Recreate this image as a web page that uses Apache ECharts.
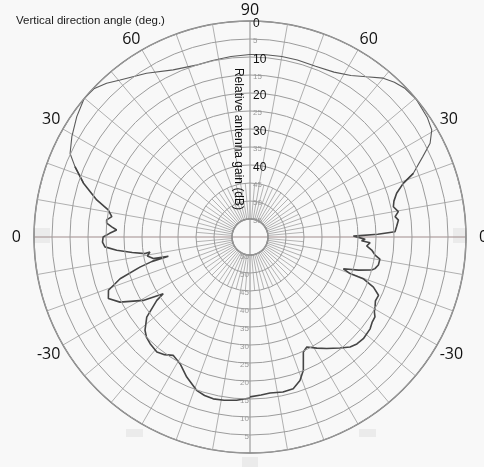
<!DOCTYPE html>
<html>
<head>
<meta charset="utf-8">
<script src="https://cdn.jsdelivr.net/npm/echarts@6/dist/echarts.min.js"></script>
<style>
  html, body { margin: 0; padding: 0; background: #f8f8f8; }
  #chart { width: 484px; height: 467px; }
</style>
</head>
<body>
<div id="chart"></div>
<script>
// Measured vertical pattern: elevation angle (deg) and relative gain (dB, 0 = peak)
const rightElevation = [90, 85, 80, 75, 69, 63, 58, 54, 50, 47, 44, 39.5, 34, 30.5, 27.5, 25, 21.3, 19.3, 16.6, 14, 11.9, 9.7, 8, 6.5, 4, 2.1, 1.2, 0.5, -0.2, -1.1, -1.9, -2.7, -4.4, -6.1, -8.2, -9.7, -12.3, -14.2, -15.2, -17, -18.8, -20.1, -20.2, -22.1, -24.4, -27, -29.2, -31, -32.6, -35, -37.4, -41.9, -45, -47.7, -51, -55.5, -59, -62.7, -65.1, -68.2, -70.8, -74.1, -78, -82.7, -86, -90];
const rightGain = [9.3, 9.2, 9.1, 9.1, 9.2, 8.6, 7.1, 5.0, 2.4, 1.2, 0.4, 0.05, 0.6, 1.4, 3.6, 7.0, 11.3, 14.9, 17.5, 18.8, 19.3, 18.2, 19.3, 18.5, 19.2, 19.7, 24.5, 31.3, 29.9, 28.0, 29.0, 26.6, 27.5, 26.0, 24.9, 23.4, 23.5, 24.2, 25.0, 28.5, 32.6, 30.4, 26.5, 23.0, 20.8, 20.9, 20.2, 19.7, 18.8, 18.6, 18.0, 17.7, 18.0, 18.7, 20.3, 22.4, 24.0, 25.6, 24.8, 20.1, 17.8, 16.2, 16.0, 16.3, 16.0, 15.6];

const leftElevation = [90, 84, 78, 73, 65.3, 57.7, 50.4, 47, 43.5, 39.8, 34.8, 29.4, 24.9, 21.9, 17.9, 13.6, 10.8, 8.4, 6.8, 5.5, 4.2, 3, 1.5, 0, -2, -3.9, -5.7, -7.5, -9, -8.5, -10.5, -12.6, -13.3, -14, -15.3, -17.8, -20.6, -23.5, -26.6, -30.7, -33.2, -34.2, -37.8, -41.6, -44, -46.9, -51, -54, -57, -61.1, -65.7, -70.8, -74, -77.2, -81, -85.3, -90];
const leftGain = [9.3, 9.6, 9.9, 10.0, 8.9, 6.2, 3.4, 1.6, 0.2, 0.0, 1.4, 3.2, 4.9, 7.6, 11.4, 16.2, 19.9, 21.2, 19.9, 20.0, 21.5, 22.9, 21.0, 19.2, 19.0, 19.6, 22.8, 27.0, 30.5, 31.9, 31.0, 32.5, 36.7, 32.0, 28.3, 22.1, 18.0, 17.1, 19.6, 25.5, 31.2, 28.7, 23.7, 21.0, 20.0, 19.4, 18.9, 19.6, 20.8, 19.8, 17.3, 14.9, 14.2, 13.9, 14.1, 14.5, 15.3];

// Below this elevation the trace gets the heavier (noisier) stroke
const heavyBelow = 20;

// Gain rings (dB) and which of them get the large labels
const gainMin = 0;
const gainMax = 55;
const gainStep = 5;
const majorGainLabels = [0, 10, 20, 30, 40];

// Elevation labels around the rim, keyed by polar angle (clockwise from the top)
const rimLabels = { 0: '90', 30: '60', 60: '30', 90: '0', 120: '-30', 240: '-30', 270: '0', 300: '30', 330: '60' };

const CX = 250, CY = 237, R_IN = 18, R_OUT = 216;

// Right half runs clockwise from the zenith, left half counter-clockwise
function sidePoints(elev, gain, toAngle, keep) {
  const out = [];
  elev.forEach((e, i) => {
    const prevIn = i > 0 && keep(elev[i - 1]);
    const nextIn = i < elev.length - 1 && keep(elev[i + 1]);
    if (keep(e) || prevIn || nextIn) out.push([gain[i], toAngle(e)]);
    else out.push('-');
  });
  return out;
}
const rightAngle = e => 90 - e;
const leftAngle = e => 270 + e;
const isUpper = e => e >= heavyBelow;
const isLower = e => e < heavyBelow;

// 10-degree spokes, leaving out the two diameters (drawn separately, darker)
const spokeColors = [];
for (let i = 0; i < 36; i++) spokeColors.push(i % 9 === 0 ? 'rgba(0,0,0,0)' : '#b0b0b0');
// 5-degree spokes only between the 10-degree ones
const fineSpokeColors = ['rgba(0,0,0,0)', '#b4b4b4'];

const hidden = { axisLine: { show: false }, axisTick: { show: false }, axisLabel: { show: false }, splitLine: { show: false } };

const thinLine = { color: '#5a5a5a', width: 1.1 };
const heavyLine = { color: '#454545', width: 1.6 };

const chart = echarts.init(document.getElementById('chart'));
chart.setOption({
  backgroundColor: '#f8f8f8',
  animation: false,
  title: {
    text: 'Vertical direction angle (deg.)',
    left: 11, top: 10,
    textStyle: { fontSize: 11.5, fontWeight: 'normal', color: '#1a1a1a', fontFamily: 'Liberation Sans' }
  },
  polar: [
    { center: [CX, CY], radius: [R_IN, R_OUT] },
    { center: [CX, CY], radius: [R_IN, 54] },
    { center: [CX, CY], radius: [R_IN, R_OUT] },
    { center: [CX, CY], radius: [0, R_OUT] }
  ],
  angleAxis: [
    {
      polarIndex: 0, type: 'value', min: 0, max: 360, interval: 10, startAngle: 90, clockwise: true,
      axisLine: { lineStyle: { color: '#7a7a7a', width: 1.5 } },
      axisTick: { show: false },
      splitLine: { lineStyle: { color: spokeColors, width: 1 } },
      axisLabel: {
        margin: 3,
        color: '#111',
        fontSize: 16,
        fontFamily: 'Open Sans',
        formatter: v => {
          const t = rimLabels[v];
          if (t === undefined || v === 360) return '';
          return t === '0' ? '{z|0}' : t;
        },
        rich: { z: { fontSize: 16, fontFamily: 'Open Sans', color: '#111', padding: [0, 10, 0, 10] } }
      }
    },
    Object.assign({ polarIndex: 1, type: 'value', min: 0, max: 360, interval: 5, startAngle: 90, clockwise: true }, hidden,
      { splitLine: { show: true, lineStyle: { color: fineSpokeColors, width: 1 } } }),
    Object.assign({ polarIndex: 2, type: 'value', min: 0, max: 360, interval: 10, startAngle: 270, clockwise: true }, hidden),
    Object.assign({ polarIndex: 3, type: 'value', min: 0, max: 360, interval: 90, startAngle: 90, clockwise: true }, hidden,
      { splitLine: { show: true, lineStyle: { color: ['#8a8a8a', '#a08c8c'], width: 1 } } })
  ],
  radiusAxis: [
    {
      polarIndex: 0, type: 'value', min: gainMin, max: gainMax, interval: gainStep, inverse: true,
      axisLine: { show: false }, axisTick: { show: false },
      splitLine: { lineStyle: { color: '#9c9c9c', width: 1 } },
      axisLabel: {
        margin: -3, align: 'left', verticalAlign: 'middle',
        formatter: v => majorGainLabels.indexOf(v) >= 0 ? '{b|' + v + '}' : '{s|' + v + '}',
        rich: {
          b: { fontSize: 12, color: '#111', fontFamily: 'Liberation Sans', padding: [5, 0, 0, 0] },
          s: { fontSize: 8, color: '#9a9a9a', fontFamily: 'Liberation Sans', padding: [3, 0, 0, 0] }
        }
      },
      z: 5
    },
    Object.assign({ polarIndex: 1, type: 'value', min: gainMin, max: gainMax, inverse: true }, hidden),
    Object.assign({ polarIndex: 2, type: 'value', min: gainMin, max: gainMax, interval: gainStep, inverse: true }, hidden, {
      axisLabel: {
        show: true, margin: -1, align: 'right', verticalAlign: 'middle',
        showMaxLabel: true, showMinLabel: false,
        formatter: v => '{s|' + v + '}',
        rich: { s: { fontSize: 8, color: '#9a9a9a', fontFamily: 'Liberation Sans', padding: [3, 0, 0, 0] } }
      }
    }),
    Object.assign({ polarIndex: 3, type: 'value', min: 0, max: 1 }, hidden)
  ],
  graphic: [
    { type: 'rect', shape: { x: 33, y: 228, width: 17, height: 15 }, style: { fill: '#ebebeb' }, z: -1 },
    { type: 'rect', shape: { x: 453, y: 228, width: 14, height: 15 }, style: { fill: '#ebebeb' }, z: -1 },
    { type: 'rect', shape: { x: 126, y: 429, width: 17, height: 8 }, style: { fill: '#ebebeb' }, z: -1 },
    { type: 'rect', shape: { x: 359, y: 429, width: 17, height: 8 }, style: { fill: '#ebebeb' }, z: -1 },
    { type: 'rect', shape: { x: 242, y: 457, width: 16, height: 10 }, style: { fill: '#ebebeb' }, z: -1 },
    {
      type: 'text', x: 238, y: 139, rotation: -Math.PI / 2,
      style: { text: 'Relative antenna gain (dB)', fontSize: 12, fontFamily: 'Liberation Sans', fill: '#111', align: 'center', verticalAlign: 'middle' },
      z: 10
    }
  ],
  series: [
    { type: 'line', coordinateSystem: 'polar', polarIndex: 0, data: sidePoints(rightElevation, rightGain, rightAngle, isUpper), symbol: 'none', connectNulls: false, lineStyle: thinLine, z: 4 },
    { type: 'line', coordinateSystem: 'polar', polarIndex: 0, data: sidePoints(rightElevation, rightGain, rightAngle, isLower), symbol: 'none', connectNulls: false, lineStyle: heavyLine, z: 4 },
    { type: 'line', coordinateSystem: 'polar', polarIndex: 0, data: sidePoints(leftElevation, leftGain, leftAngle, isUpper), symbol: 'none', connectNulls: false, lineStyle: thinLine, z: 4 },
    { type: 'line', coordinateSystem: 'polar', polarIndex: 0, data: sidePoints(leftElevation, leftGain, leftAngle, isLower), symbol: 'none', connectNulls: false, lineStyle: heavyLine, z: 4 }
  ]
});
</script>
</body>
</html>
